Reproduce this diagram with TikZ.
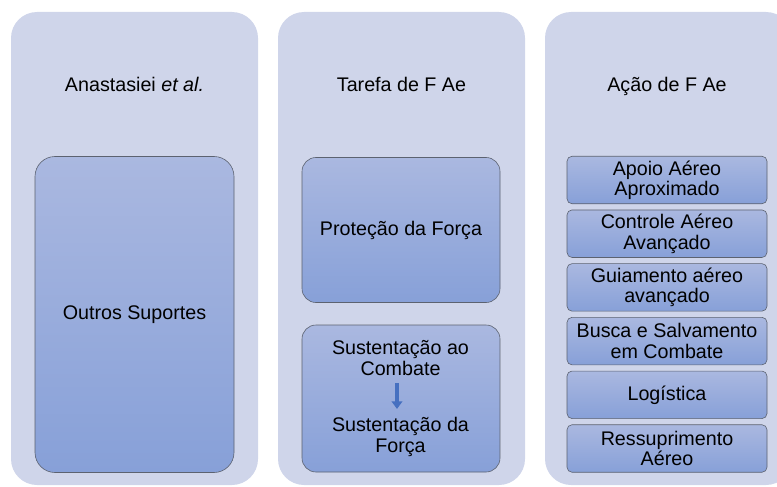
\documentclass[tikz,border=0pt]{standalone}
\usepackage{fontspec}
\setmainfont{Liberation Sans}
\usetikzlibrary{arrows.meta}
\definecolor{panel}{HTML}{CFD5EA}
\definecolor{boxtop}{HTML}{AAB8E0}
\definecolor{boxbot}{HTML}{87A0D8}
\definecolor{boxline}{HTML}{5C6270}
\definecolor{arrowc}{HTML}{4670C0}
\newcommand\fs{\fontsize{19.7pt}{20.3pt}\selectfont}
\begin{document}
\begin{tikzpicture}[x=1pt,y=-1pt,
  panelbg/.style={fill=panel, rounded corners=26pt},
  box/.style={draw=boxline, line width=0.6pt, top color=boxtop, bottom color=boxbot,
    align=center, font=\fs, inner sep=0pt},
  bigbox/.style={box, rounded corners=20pt},
  midbox/.style={box, rounded corners=14pt},
  smallbox/.style={box, rounded corners=5pt, minimum width=200pt, minimum height=47.5pt},
  title/.style={anchor=base, font=\fs, inner sep=0pt},
  plain/.style={align=center, font=\fs, inner sep=0pt},
  flow/.style={arrowc, line width=4.5pt, -{Triangle[width=10.5pt,length=7.5pt]}}]
\useasboundingbox (0,0) rectangle (777,487);
\clip (0,0) rectangle (777,487);
% panels
\fill[panelbg] (11,12) rectangle (258,485);
\fill[panelbg] (278,12) rectangle (525,485);
\fill[panelbg] (545,12) rectangle (792,485);
% titles
\node[title] (h1) at (134.5,92) {Anastasiei \textit{et al.}};
\node[title] (h2) at (401.5,91.5) {Tarefa de F Ae};
\node[title] (h3) at (667,91.5) {Ação de F Ae};
% column 1
\node[bigbox, minimum width=199pt, minimum height=316pt] (outros) at (134.5,314.5) {Outros Suportes};
% column 2
\node[midbox, minimum width=198pt, minimum height=145pt] (protecao) at (401,230) {Proteção da Força};
\node[midbox, minimum width=198pt, minimum height=147pt] (sust) at (401,398.5) {};
\node[plain] (s1) at (400.5,358) {Sustentação ao\\Combate};
\node[plain] (s2) at (400.5,437) {Sustentação da\\Força};
\draw[flow, shorten <=7.5pt, shorten >=8.5pt] ([xshift=-3.5pt]s1.south) -- ([xshift=-3.5pt]s1.south |- s2.north);
% column 3
\node[smallbox] (a1) at (667,180) {Apoio Aéreo\\Aproximado};
\node[smallbox] (a2) at (667,233.7) {Controle Aéreo\\Avançado};
\node[smallbox] (a3) at (667,287.4) {Guiamento aéreo\\avançado};
\node[smallbox] (a4) at (667,341.1) {Busca e Salvamento\\em Combate};
\node[smallbox] (a5) at (667,394.8) {Logística};
\node[smallbox] (a6) at (667,448.5) {Ressuprimento\\Aéreo};
\end{tikzpicture}
\end{document}
